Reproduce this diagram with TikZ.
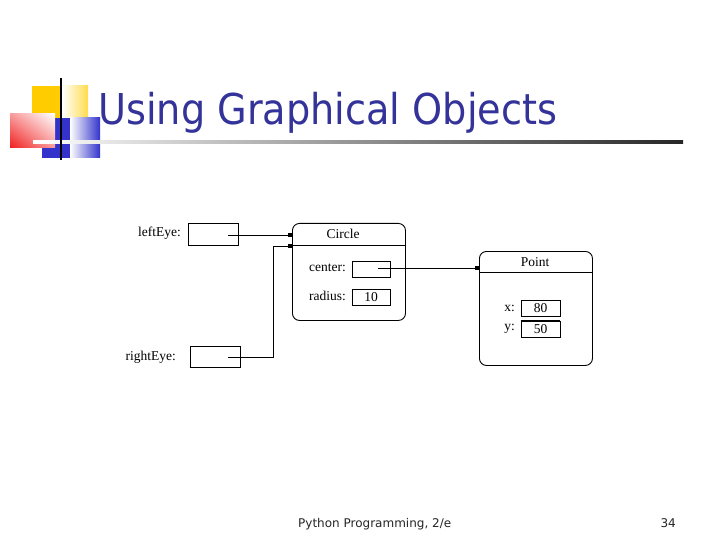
\documentclass[tikz,border=0pt]{standalone}
\usepackage{fontspec}
\setmainfont{Liberation Serif}
\newfontfamily\slidefont{DejaVu Sans}
\usetikzlibrary{arrows.meta,shadings}
\definecolor{titleblue}{RGB}{51,51,153}
\definecolor{logoyellow}{RGB}{255,204,0}
\definecolor{logoblue}{RGB}{51,51,204}
\definecolor{logored}{RGB}{240,30,30}
\begin{document}
\begin{tikzpicture}[x=1pt,y=-1pt,
    lbl/.style={inner sep=0pt,font=\fontsize{13.5}{15}\selectfont},
    slot/.style={draw,line width=0.9pt,inner sep=0pt,font=\fontsize{13.5}{15}\selectfont},
    obj/.style={draw,line width=0.9pt,rounded corners=7pt,inner sep=0pt},
    ref/.style={line width=0.9pt,-{Rectangle[length=4pt,width=3.5pt]}}]
    \useasboundingbox[fill=white] (0,0) rectangle (720,540);
    \begin{scope}
      \fill[logoyellow] (32,86) rectangle (62,118);
      \shade[left color=white,right color=logoyellow!70] (62,86) rectangle (88,118);
      \fill[logoblue] (42,118) rectangle (70,158);
      \shade[left color=white,right color=logoblue] (70,118) rectangle (100,158);
      \shade[lower left=logored,upper right=white,upper left=logored!45,lower right=logored!45]
        (10,114) rectangle (55,148);
      \shade[left color=white,right color=black!85] (33,141) rectangle (683,143.5);
      \draw[line width=2pt] (61,78) -- (61,160);
    \end{scope}
    \node[anchor=base west,inner sep=0pt,text=titleblue,font=\slidefont\fontsize{42.5}{46}\selectfont] (title) at (98,125) {\scalebox{0.9}[1]{Using Graphical Objects}};
    \node[lbl,anchor=east] (leftEyeLbl) at (181,233) {leftEye:};
    \node[slot,minimum width=50pt,minimum height=22pt] (leftEyeBox) at (213,234) {};
    \node[lbl,anchor=east] (rightEyeLbl) at (176,357) {rightEye:};
    \node[slot,minimum width=50pt,minimum height=21pt] (rightEyeBox) at (215,356.5) {};
    \draw[line width=1.6pt] (rightEyeBox.south west) -- (rightEyeBox.south east);
    \node[obj,minimum width=113pt,minimum height=97pt,anchor=north west] (circleObj) at (292,223) {};
    \draw[line width=0.9pt] (292,245) -- (405,245);
    \node[lbl] (circleName) at (343,234) {Circle};
    \node[lbl,anchor=east] (centerLbl) at (346,268) {center:};
    \node[slot,minimum width=38pt,minimum height=16pt] (centerBox) at (371,269) {};
    \node[lbl,anchor=east] (radiusLbl) at (346,296) {radius:};
    \node[slot,minimum width=38pt,minimum height=16pt] (radiusBox) at (371,297) {10};
    \draw[line width=1.6pt] (radiusBox.south west) -- (radiusBox.south east);
    \node[obj,minimum width=113pt,minimum height=114pt,anchor=north west] (pointObj) at (479,251) {};
    \draw[line width=0.9pt] (479,272) -- (592,272);
    \node[lbl] (pointName) at (535,262) {Point};
    \node[lbl,anchor=east] (xLbl) at (515,308) {x:};
    \node[slot,minimum width=39pt,minimum height=16pt] (xBox) at (540.5,308.5) {80};
    \node[lbl,anchor=east] (yLbl) at (515,329) {y:};
    \node[slot,minimum width=39pt,minimum height=16pt] (yBox) at (540.5,329.5) {50};
    \draw[line width=1.6pt] (yBox.north west) -- (yBox.north east);
    \coordinate (leftEyeRef) at (228,235);
    \coordinate (rightEyeRef) at (228,357);
    \coordinate (centerRef) at (378,268);
    \coordinate (circleHead) at (292,246);
    \draw[ref] (leftEyeRef) -- (leftEyeRef -| circleObj.west);
    \draw[ref] (rightEyeRef) -- ++(45,0) |- (circleHead);
    \draw[ref] (centerRef) -- (centerRef -| pointObj.west);
    \node[anchor=base west,inner sep=0pt,text=black!85,font=\slidefont\fontsize{12}{14}\selectfont] (footer) at (298,527) {Python Programming, 2/e};
    \node[anchor=base east,inner sep=0pt,text=black!85,font=\slidefont\fontsize{12}{14}\selectfont] (pageNo) at (676,527) {34};
\end{tikzpicture}
\end{document}
